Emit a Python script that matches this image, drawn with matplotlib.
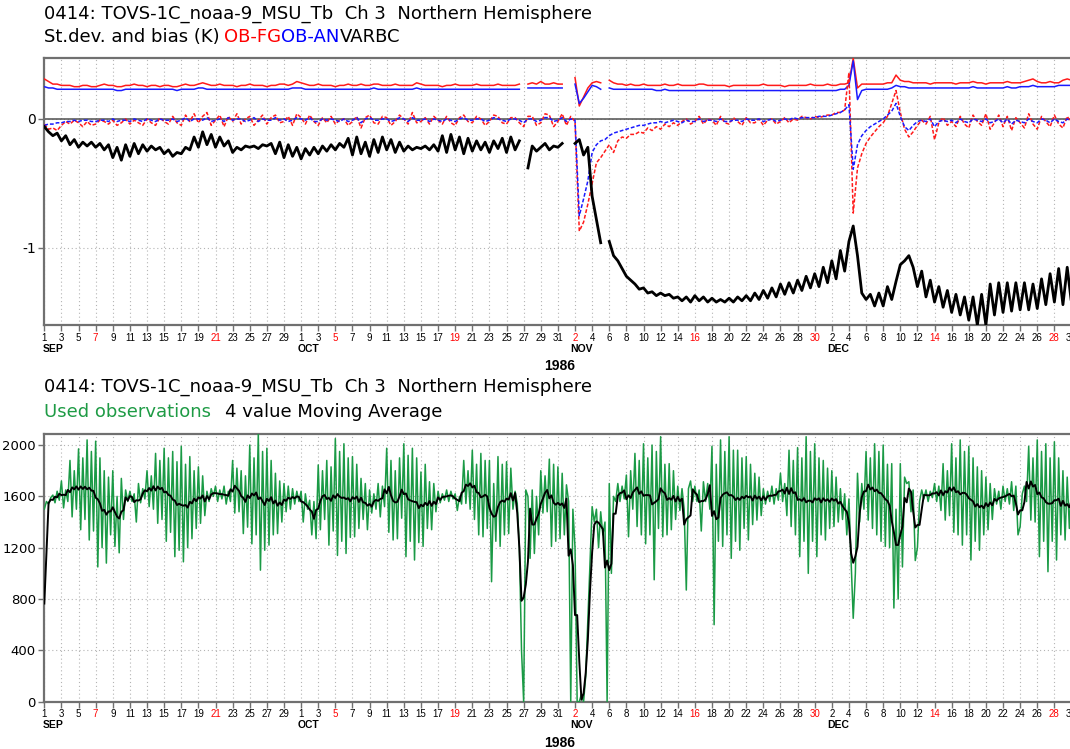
import numpy as np
import pandas as pd
import matplotlib
matplotlib.use("Agg")
import matplotlib.pyplot as plt
import matplotlib.transforms as mtransforms

nan = np.nan

# Top panel: two values per day (00 and 12 UTC), day 0 = 1 Sep 1986
# St.dev. OB-FG (K)
stdev_fg_sep = [(0.31,0.29),(0.27,0.27),(0.26,0.26),(0.26,0.25),(0.25,0.26),(0.26,0.25),(0.25,0.26),(0.27,0.26),(0.26,0.25),(0.25,0.26),
                (0.26,0.27),(0.26,0.26),(0.25,0.26),(0.26,0.25),(0.26,0.26),(0.25,0.25),(0.26,0.27),(0.26,0.26),(0.27,0.28),(0.27,0.26),
                (0.26,0.27),(0.26,0.26),(0.26,0.25),(0.26,0.26),(0.27,0.26),(0.26,0.26),(0.25,0.26),(0.26,0.27),(0.27,0.26),(0.27,0.29)]
stdev_fg_oct = [(0.28,0.27),(0.26,0.26),(0.27,0.26),(0.26,0.26),(0.25,0.26),(0.26,0.27),(0.26,0.26),(0.27,0.26),(0.26,0.27),(0.27,0.26),
                (0.26,0.26),(0.27,0.26),(0.26,0.26),(0.26,0.28),(0.27,0.26),(0.26,0.26),(0.26,0.25),(0.26,0.26),(0.27,0.26),(0.26,0.26),
                (0.26,0.27),(0.26,0.26),(0.26,0.26),(0.27,0.26),(0.26,0.26),(0.26,0.27),(nan,0.27),(0.28,0.27),(0.29,0.27),(0.27,0.28),(0.27,0.27)]
stdev_fg_nov = [(nan,nan),(0.32,0.10),(0.17,0.24),(0.28,0.29),(0.28,nan),(0.30,0.28),(0.27,0.27),(0.26,0.27),(0.26,0.26),(0.27,0.26),
                (0.26,0.26),(0.26,0.27),(0.26,0.26),(0.27,0.26),(0.26,0.26),(0.26,0.27),(0.27,0.26),(0.26,0.26),(0.26,0.26),(0.25,0.26),
                (0.26,0.26),(0.26,0.26),(0.26,0.26),(0.27,0.26),(0.26,0.26),(0.26,0.25),(0.26,0.26),(0.26,0.26),(0.26,0.27),(0.26,0.26)]
stdev_fg_dec = [(0.26,0.27),(0.26,0.26),(0.27,0.27),(0.28,0.47),(0.24,0.27),(0.27,0.27),(0.27,0.27),(0.27,0.28),(0.28,0.34),(0.30,0.29),
                (0.29,0.28),(0.28,0.28),(0.28,0.27),(0.28,0.28),(0.28,0.28),(0.28,0.27),(0.28,0.28),(0.28,0.29),(0.28,0.28),(0.27,0.28),
                (0.28,0.28),(0.28,0.29),(0.28,0.28),(0.28,0.29),(0.30,0.31),(0.29,0.28),(0.28,0.29),(0.28,0.28),(0.30,0.31),(0.30,0.30),(0.29,0.30)]

# St.dev. OB-AN (K)
stdev_an_sep = [(0.25,0.24),(0.24,0.23),(0.23,0.23),(0.23,0.23),(0.23,0.23),(0.23,0.23),(0.23,0.23),(0.23,0.23),(0.23,0.22),(0.22,0.23),
                (0.23,0.23),(0.23,0.23),(0.23,0.23),(0.23,0.23),(0.23,0.23),(0.23,0.22),(0.23,0.23),(0.23,0.23),(0.24,0.24),(0.23,0.23),
                (0.23,0.23),(0.23,0.23),(0.23,0.23),(0.23,0.23),(0.23,0.23),(0.23,0.23),(0.23,0.23),(0.23,0.23),(0.23,0.23),(0.24,0.24)]
stdev_an_oct = [(0.24,0.23),(0.23,0.23),(0.23,0.23),(0.23,0.23),(0.23,0.23),(0.23,0.23),(0.23,0.23),(0.23,0.23),(0.23,0.24),(0.23,0.23),
                (0.23,0.23),(0.23,0.23),(0.23,0.23),(0.23,0.24),(0.23,0.23),(0.23,0.23),(0.23,0.23),(0.23,0.23),(0.23,0.23),(0.23,0.23),
                (0.23,0.23),(0.23,0.23),(0.23,0.23),(0.23,0.23),(0.23,0.23),(0.23,0.23),(nan,0.24),(0.24,0.24),(0.24,0.24),(0.24,0.24),(0.24,0.24)]
stdev_an_nov = [(nan,nan),(0.27,0.12),(0.16,0.21),(0.26,0.25),(0.23,nan),(0.24,0.23),(0.23,0.23),(0.23,0.23),(0.23,0.23),(0.23,0.23),
                (0.23,0.22),(0.22,0.23),(0.22,0.22),(0.22,0.22),(0.22,0.22),(0.22,0.22),(0.22,0.22),(0.22,0.22),(0.22,0.22),(0.22,0.22),
                (0.22,0.22),(0.22,0.22),(0.22,0.22),(0.22,0.22),(0.22,0.22),(0.22,0.22),(0.22,0.22),(0.22,0.22),(0.22,0.22),(0.22,0.22)]
stdev_an_dec = [(0.22,0.22),(0.22,0.22),(0.23,0.23),(0.26,0.45),(0.15,0.22),(0.23,0.23),(0.23,0.23),(0.23,0.23),(0.24,0.26),(0.25,0.25),
                (0.24,0.24),(0.24,0.24),(0.24,0.24),(0.24,0.24),(0.24,0.24),(0.24,0.24),(0.24,0.24),(0.24,0.25),(0.24,0.24),(0.24,0.24),
                (0.24,0.24),(0.24,0.25),(0.24,0.24),(0.25,0.25),(0.25,0.26),(0.25,0.25),(0.25,0.25),(0.25,0.26),(0.26,0.26),(0.26,0.25),(0.25,0.25)]

# Bias OB-FG (K)
bias_fg_sep = [(-0.04,-0.08),(-0.07,-0.09),(-0.05,-0.02),(-0.04,-0.01),(-0.03,-0.06),(-0.02,-0.05),(-0.04,-0.01),(-0.02,-0.04),(-0.01,-0.05),(-0.03,0.00),
               (-0.04,-0.01),(-0.03,-0.05),(0.00,-0.03),(-0.05,0.01),(-0.02,-0.04),(0.02,-0.03),(-0.05,0.03),(-0.02,0.04),(-0.03,0.02),(0.05,-0.05),
               (-0.01,0.03),(-0.06,0.02),(-0.02,0.04),(-0.04,0.00),(0.02,-0.05),(-0.01,0.03),(-0.04,0.01),(0.03,-0.03),(-0.02,0.02),(-0.05,0.04)]
bias_fg_oct = [(0.01,-0.04),(0.03,-0.02),(-0.05,0.01),(-0.03,0.02),(-0.04,-0.01),(0.00,-0.05),(-0.02,0.02),(-0.07,0.01),(0.03,-0.03),(-0.04,0.02),
               (0.01,-0.05),(-0.02,0.03),(0.00,-0.04),(0.05,-0.03),(-0.02,0.01),(-0.04,0.02),(-0.01,-0.04),(0.02,-0.03),(-0.05,0.01),(0.03,-0.02),
               (-0.03,0.02),(0.00,-0.05),(-0.02,0.03),(0.02,-0.03),(-0.04,0.01),(0.01,-0.03),(-0.06,0.02),(0.02,-0.05),(-0.03,0.04),(0.03,-0.06),(-0.02,0.04)]
bias_fg_nov = [(-0.05,0.02),(-0.02,-0.87),(-0.80,-0.66),(-0.50,-0.34),(-0.30,-0.25),(-0.20,-0.26),(-0.17,-0.14),(-0.15,-0.12),(-0.12,-0.10),(-0.11,-0.07),
               (-0.09,-0.06),(-0.08,-0.04),(-0.06,-0.03),(-0.05,-0.02),(0.00,-0.04),(-0.02,0.02),(-0.04,0.00),(-0.01,-0.05),(0.02,-0.03),(-0.04,0.01),
               (-0.02,-0.05),(0.01,-0.03),(-0.03,0.00),(-0.05,-0.01),(0.00,-0.04),(-0.02,0.01),(-0.03,0.00),(-0.01,0.02),(0.01,0.00),(0.02,0.01)]
bias_fg_dec = [(0.02,0.03),(0.03,0.05),(0.05,0.07),(0.36,-0.73),(-0.38,-0.27),(-0.19,-0.14),(-0.10,-0.06),(-0.03,0.02),(0.12,0.22),(0.05,-0.08),
               (-0.14,-0.10),(-0.05,-0.01),(-0.04,0.02),(-0.16,-0.03),(0.01,-0.05),(-0.02,-0.06),(0.02,-0.04),(-0.07,0.03),(-0.02,-0.05),(0.04,-0.08),
               (-0.03,0.03),(-0.06,0.02),(-0.09,0.01),(-0.03,-0.07),(0.04,-0.04),(-0.08,0.02),(-0.02,-0.06),(0.03,-0.04),(-0.07,0.02),(-0.03,-0.06),(0.01,-0.04)]

# Bias OB-AN (K)
bias_an_sep = [(-0.05,-0.04),(-0.04,-0.03),(-0.03,-0.02),(-0.02,-0.01),(-0.02,-0.01),(-0.01,-0.02),(-0.02,-0.01),(-0.01,-0.02),(0.00,-0.02),(-0.01,-0.01),
               (-0.02,0.00),(-0.01,-0.02),(0.00,-0.01),(-0.02,0.00),(-0.01,-0.01),(0.00,-0.02),(-0.01,0.01),(-0.02,0.00),(0.00,-0.01),(0.01,-0.02),
               (-0.01,0.00),(-0.02,0.01),(-0.01,0.00),(0.00,-0.02),(-0.01,0.01),(-0.02,0.00),(-0.01,-0.01),(0.01,-0.01),(0.00,-0.02),(-0.01,0.01)]
bias_an_oct = [(0.00,-0.01),(0.01,-0.02),(-0.02,0.00),(-0.01,0.00),(-0.01,-0.02),(0.00,-0.02),(-0.01,0.01),(-0.03,0.00),(0.01,-0.01),(-0.01,0.00),
               (0.00,-0.02),(-0.01,0.01),(0.00,-0.02),(0.01,-0.01),(-0.01,0.00),(-0.02,0.00),(-0.01,-0.02),(0.00,-0.01),(-0.02,0.00),(0.01,-0.01),
               (-0.01,0.00),(0.00,-0.02),(-0.01,0.01),(0.00,-0.01),(-0.02,0.00),(0.00,-0.01),(-0.03,0.00),(0.00,-0.02),(-0.01,0.01),(0.01,-0.02),(-0.01,0.01)]
bias_an_nov = [(-0.02,0.00),(-0.01,-0.75),(-0.62,-0.48),(-0.26,-0.20),(-0.17,-0.16),(-0.13,-0.11),(-0.10,-0.09),(-0.08,-0.07),(-0.06,-0.05),(-0.05,-0.04),
               (-0.03,-0.03),(-0.02,-0.03),(-0.02,-0.01),(-0.02,-0.03),(-0.01,-0.02),(-0.02,0.00),(-0.02,-0.01),(-0.01,-0.02),(0.00,-0.02),(-0.02,-0.01),
               (-0.01,-0.02),(0.00,-0.01),(-0.01,0.00),(-0.02,-0.01),(0.00,-0.02),(-0.01,0.00),(-0.01,0.01),(0.00,0.01),(0.01,0.01),(0.01,0.02)]
bias_an_dec = [(0.02,0.02),(0.03,0.04),(0.05,0.07),(0.11,-0.39),(-0.20,-0.13),(-0.09,-0.06),(-0.04,-0.02),(0.00,0.03),(0.06,0.12),(0.02,-0.06),
               (-0.09,-0.05),(-0.02,-0.01),(-0.02,0.00),(-0.06,-0.02),(-0.01,-0.02),(-0.01,-0.03),(0.00,-0.02),(-0.03,0.00),(-0.01,-0.02),(0.00,-0.03),
               (-0.02,0.00),(-0.03,0.00),(-0.04,-0.01),(-0.02,-0.03),(0.00,-0.02),(-0.03,0.00),(-0.01,-0.03),(0.00,-0.02),(-0.03,0.00),(-0.02,-0.03),(0.00,-0.02)]

# VARBC bias correction (K)
varbc_sep = [(-0.06,-0.10),(-0.13,-0.11),(-0.17,-0.13),(-0.20,-0.16),(-0.22,-0.18),(-0.21,-0.18),(-0.22,-0.19),(-0.24,-0.20),(-0.30,-0.22),(-0.32,-0.20),
             (-0.29,-0.19),(-0.27,-0.20),(-0.25,-0.21),(-0.24,-0.22),(-0.27,-0.24),(-0.29,-0.26),(-0.27,-0.22),(-0.24,-0.14),(-0.22,-0.10),(-0.20,-0.12),
             (-0.22,-0.14),(-0.21,-0.17),(-0.26,-0.22),(-0.24,-0.21),(-0.22,-0.21),(-0.23,-0.20),(-0.21,-0.19),(-0.27,-0.18),(-0.30,-0.20),(-0.29,-0.22)]
varbc_oct = [(-0.31,-0.23),(-0.28,-0.22),(-0.27,-0.21),(-0.25,-0.20),(-0.24,-0.19),(-0.22,-0.15),(-0.28,-0.14),(-0.27,-0.18),(-0.29,-0.16),(-0.26,-0.14),
             (-0.24,-0.16),(-0.26,-0.18),(-0.25,-0.21),(-0.24,-0.22),(-0.23,-0.21),(-0.24,-0.20),(-0.25,-0.13),(-0.26,-0.12),(-0.24,-0.14),(-0.27,-0.15),
             (-0.25,-0.17),(-0.24,-0.18),(-0.26,-0.17),(-0.23,-0.15),(-0.26,-0.14),(-0.24,-0.17),(nan,-0.38),(-0.21,-0.25),(-0.22,-0.19),(-0.24,-0.21),(-0.22,-0.19)]
varbc_nov = [(nan,nan),(-0.19,-0.16),(-0.28,-0.22),(-0.60,-0.78),(-0.96,nan),(-0.95,-1.06),(-1.10,-1.16),(-1.22,-1.25),(-1.28,-1.32),(-1.31,-1.35),
             (-1.34,-1.37),(-1.35,-1.37),(-1.36,-1.39),(-1.38,-1.41),(-1.38,-1.42),(-1.37,-1.41),(-1.38,-1.42),(-1.39,-1.42),(-1.40,-1.42),(-1.39,-1.42),
             (-1.38,-1.41),(-1.37,-1.41),(-1.35,-1.40),(-1.33,-1.39),(-1.31,-1.38),(-1.28,-1.36),(-1.27,-1.35),(-1.25,-1.33),(-1.22,-1.31),(-1.20,-1.30)]
varbc_dec = [(-1.15,-1.27),(-1.10,-1.24),(-1.02,-1.18),(-0.95,-0.83),(-1.06,-1.35),(-1.40,-1.36),(-1.45,-1.35),(-1.45,-1.30),(-1.40,-1.26),(-1.13,-1.10),
             (-1.06,-1.15),(-1.30,-1.18),(-1.38,-1.25),(-1.42,-1.30),(-1.46,-1.33),(-1.50,-1.36),(-1.52,-1.38),(-1.56,-1.38),(-1.60,-1.36),(-1.60,-1.28),
             (-1.52,-1.27),(-1.50,-1.27),(-1.49,-1.27),(-1.48,-1.27),(-1.48,-1.28),(-1.47,-1.24),(-1.44,-1.20),(-1.42,-1.16),(-1.44,-1.15),(-1.43,-1.15),(-1.42,-1.17)]

# Bottom panel: used observations, four values per day (00/06/12/18 UTC)
used_sep = [(1500,1560,1540,1590),(1610,1550,1640,1570),(1720,1510,1650,1560),(1880,1440,1800,1500),(1970,1340,1900,1420),
            (2040,1260,1950,1330),(2030,1050,1900,1200),(1800,1080,1750,1300),(1800,1210,1600,1160),(1740,1420,1650,1560),
            (1640,1560,1620,1400),(1700,1550,1660,1580),(1800,1520,1760,1500),(1935,1390,1880,1420),(1975,1250,1900,1320),
            (1950,1130,1870,1180),(1990,1090,1850,1200),(1910,1270,1800,1350),(1830,1390,1760,1450),(1640,1560,1660,1600),
            (1680,1560,1650,1580),(1680,1540,1640,1560),(1880,1470,1820,1480),(1800,1310,1760,1360),(2000,1230,1900,1300),
            (2090,1025,1950,1180),(1975,1220,1880,1300),(1780,1310,1720,1400),(1700,1480,1680,1500),(1660,1540,1640,1560)]
used_oct = [(1640,1400,1620,1500),(1570,1300,1560,1270),(1845,1340,1800,1420),(1880,1220,1830,1330),(2050,1140,1950,1250),
            (2010,1155,1900,1280),(1910,1285,1850,1350),(1740,1420,1700,1340),(1650,1470,1620,1500),(1700,1440,1680,1520),
            (1975,1320,1880,1260),(1800,1270,1900,1430),(2010,1130,1920,1250),(1975,1104,1900,1240),(1790,1210,1850,1350),
            (1714,1340,1700,1480),(1640,1550,1620,1570),(1650,1560,1640,1580),(1620,1490,1600,1540),(1880,1545,1800,1500),
            (1960,1420,1850,1300),(1935,1285,1880,1350),(1880,935,1700,1250),(1910,1210,1850,1300),(1870,1310,1820,1500),
            (1640,1545,1200,400),(0,1650,1600,1117),(1650,1155,1600,1300),(1800,1470,1760,1480),(1890,1210,1850,1250),
            (1830,1270,1780,1300)]
used_nov = [(1690,1560,0,1500),(1200,0,0,60),(0,200,640,1100),(1520,1400,1500,1200),(1480,1300,1400,0),
            (1700,1000,1600,1560),(1700,1560,1680,1580),(1766,1285,1800,1500),(1935,1365,1880,1300),(2010,1230,1900,1300),
            (2000,950,1950,1350),(2065,1285,1850,1300),(1855,1340,1800,1420),(1680,1490,1660,1500),(870,1660,1720,1560),
            (1680,1560,1650,1330),(1714,1560,1700,1500),(1990,600,1850,1250),(2040,1210,1950,1300),(2065,1117,1960,1250),
            (1960,1180,1900,1350),(1910,1260,1850,1380),(1780,1415,1750,1450),(1660,1540,1640,1560),(1680,1540,1660,1570),
            (1780,1560,1700,1450),(1960,1365,1880,1300),(1980,1130,1900,1250),(2065,1000,1950,1250),(2010,1130,1900,1300)]
used_dec = [(1880,1260,1820,1350),(1800,1365,1750,1400),(1660,1420,1620,1300),(1580,1100,650,1000),(1780,1400,1700,1500),
            (1950,1415,1900,1350),(2010,1300,1950,1250),(2000,1210,1850,1200),(1855,730,1500,800),(1855,1050,1750,1700),
            (1714,1480,1650,1100),(1200,1560,1650,1580),(1650,1560,1640,1590),(1700,1560,1680,1490),(1855,1415,1800,1450),
            (2010,1320,1900,1300),(2040,1220,1950,1300),(1990,1104,1900,1250),(1830,1180,1800,1300),(1750,1340,1700,1420),
            (1660,1540,1640,1500),(1680,1560,1660,1540),(1714,1490,1680,1300),(1365,1620,1680,1560),(1990,1415,1900,1400),
            (2040,1130,1950,1250),(2010,1013,1900,1250),(2025,1104,1900,1300),(1800,1260,1750,1350),(1700,1450,1680,1500),
            (1650,1520,1640,1540)]

months = ["SEP", "OCT", "NOV", "DEC"]
month_label_day = [1.0, 30.9, 62.8, 92.8]
start_date = pd.Timestamp("1986-09-01")
ndays = 122

W, H = 1070, 749
TICK_FONT = ["Liberation Sans Narrow", "Liberation Sans", "DejaVu Sans"]
TITLE_FONT = ["DejaVu Sans"]


def flat(*months_rows):
    return np.array([v for rows in months_rows for row in rows for v in row], dtype=float)


stdev_fg = flat(stdev_fg_sep, stdev_fg_oct, stdev_fg_nov, stdev_fg_dec)
stdev_an = flat(stdev_an_sep, stdev_an_oct, stdev_an_nov, stdev_an_dec)
bias_fg = flat(bias_fg_sep, bias_fg_oct, bias_fg_nov, bias_fg_dec)
bias_an = flat(bias_an_sep, bias_an_oct, bias_an_nov, bias_an_dec)
varbc = flat(varbc_sep, varbc_oct, varbc_nov, varbc_dec)
used = flat(used_sep, used_oct, used_nov, used_dec)

t_top = np.arange(len(stdev_fg)) * 0.5
t_bot = np.arange(len(used)) * 0.25
# 4 value moving average (values before the start count as zero)
used_ma = pd.Series(used).rolling(4, center=True, min_periods=1).sum().values / 4.0

fig = plt.figure(figsize=(W / 100, H / 100), dpi=100)

x0, pxday = 44.3, 8.56


def px_axes(top, bottom):
    return fig.add_axes([x0 / W, 1 - bottom / H, pxday * ndays / W, (bottom - top) / H])


def style_time_axis(ax):
    ax.set_xlim(0, ndays)
    ticks = np.arange(0, ndays, 2)
    dates = start_date + pd.to_timedelta(ticks, unit="D")
    ax.set_xticks(ticks)
    ax.set_xticklabels([str(d.day) for d in dates], fontsize=7, family=TICK_FONT)
    for lab, dt in zip(ax.get_xticklabels(), dates):
        if dt.dayofweek == 6:
            lab.set_color("red")
    ax.tick_params(axis="x", length=4, width=1, pad=1.5, color="#707070")
    ax.tick_params(axis="y", length=4, width=1, pad=2, color="#707070", labelsize=10)
    for sp in ax.spines.values():
        sp.set_color("#707070")
        sp.set_linewidth(1.6)
    ax.grid(True, ls=(0, (1, 2.5)), color="#b4b4b4", lw=0.8)
    ax.set_axisbelow(True)
    trans = mtransforms.offset_copy(ax.get_xaxis_transform(), fig=fig, y=-23.5, units="dots")
    for name, d in zip(months, month_label_day):
        ax.text(d, 0, name, transform=trans, ha="center", va="center",
                fontsize=7.5, fontweight="bold", family=TICK_FONT)
    trans2 = mtransforms.offset_copy(ax.get_xaxis_transform(), fig=fig, y=-41, units="dots")
    ax.text(60.2, 0, "1986", transform=trans2, ha="center", va="center",
            fontsize=10, fontweight="bold", family=TICK_FONT)


def title_line(y_px, parts):
    renderer = fig.canvas.get_renderer()
    x = x0
    for text, color, extra in parts:
        t = fig.text(x / W, 1 - y_px / H, text, color=color, fontsize=13,
                     ha="left", va="center", family=TITLE_FONT)
        x += t.get_window_extent(renderer).width + extra


# ---- top panel: st.dev. and bias ----
ax1 = px_axes(58.3, 325.3)
style_time_axis(ax1)
ax1.set_ylim(-1.6, 0.47)
ax1.set_yticks([0, -1])
ax1.set_yticklabels(["0", "-1"], family="DejaVu Sans")
ax1.axhline(0, color="#505050", lw=1.1, zorder=2)
ax1.plot(t_top, stdev_fg, color="#ff1a1a", lw=1.1, zorder=3)
ax1.plot(t_top, stdev_an, color="#1a1aff", lw=1.1, zorder=3)
ax1.plot(t_top, bias_fg, color="#ff1a1a", lw=1.1, dashes=(2.5, 1.3), zorder=3)
ax1.plot(t_top, bias_an, color="#1a1aff", lw=1.1, dashes=(2.5, 1.3), zorder=3)
ax1.plot(t_top, varbc, color="black", lw=2.0, zorder=4)

# ---- bottom panel: used observations ----
ax2 = px_axes(434, 701.7)
style_time_axis(ax2)
ax2.set_ylim(0, 2086)
ax2.set_yticks(np.arange(0, 2001, 400))
ax2.set_yticklabels([str(v) for v in range(0, 2001, 400)], family="DejaVu Sans", fontsize=9.5)
ax2.plot(t_bot, used, color="#1a9a45", lw=1.1, zorder=3)
ax2.plot(t_bot, used_ma, color="black", lw=1.4, zorder=4)

title = "0414: TOVS-1C_noaa-9_MSU_Tb  Ch 3  Northern Hemisphere"
title_line(14, [(title, "black", 0)])
title_line(37, [("St.dev. and bias (K)", "black", 4.5), ("OB-FG", "red", 0),
                ("OB-AN", "blue", 0), ("VARBC", "black", 0)])
title_line(387, [(title, "black", 0)])
title_line(412, [("Used observations", "#1e9b45", 14), ("4 value Moving Average", "black", 0)])

fig.savefig("out.png", dpi=100)
